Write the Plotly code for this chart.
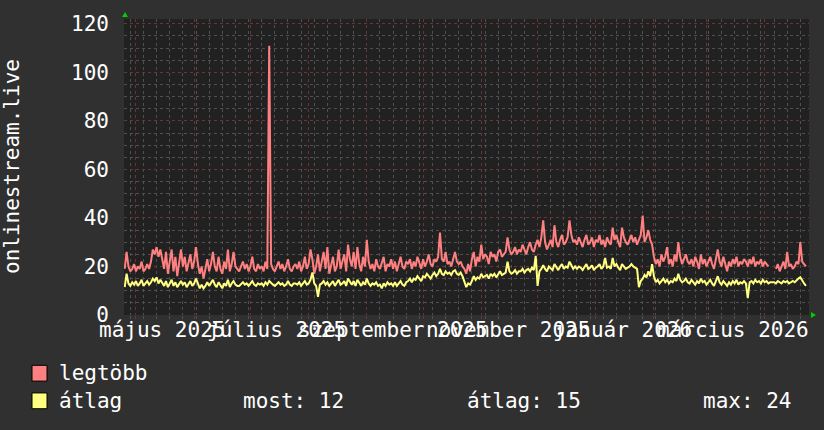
import pandas as pd
import plotly.graph_objects as go

nan = float("nan")

# ---------------- data (daily values) ----------------
dates = pd.date_range("2025-04-25", periods=364, freq="D")

legtobb = (
    [19, 26, 20, 18, 19, 21, 18, 20, 19, 22, 18, 19, 21, 19, 22, 27, 25, 28, 24, 27, 23, 19, 26, 17, 22, 27, 18, 24, 16, 22, 27]
    + [20, 24, 18, 21, 25, 19, 22, 28, 21, 17, 20, 15, 19, 23, 18, 21, 26, 20, 18, 24, 19, 17, 22, 19, 27, 18, 21, 26, 20, 19]
    + [18, 20, 22, 19, 21, 18, 20, 24, 19, 18, 21, 19, 20, 18, 22, 19, 111, 21, 19, 18, 20, 22, 19, 21, 18, 20, 23, 19, 18, 20]
    + [21, 19, 22, 18, 20, 24, 19, 21, 27, 23, 17, 20, 25, 18, 22, 26, 19, 28, 17, 21, 24, 18, 20, 27, 19, 22, 25, 18, 29, 23]
    + [20, 26, 19, 28, 21, 18, 24, 20, 31, 22, 19, 21, 18, 23, 20, 19, 22, 24, 18, 21, 20, 23, 19, 22, 18, 21, 24, 20, 19, 22]
    + [21, 23, 19, 22, 20, 24, 21, 19, 23, 20, 22, 25, 21, 20, 23, 22, 24, 34, 23, 22, 26, 21, 22, 20, 23, 26, 22, 21, 22, 20]
    + [19, 17, 21, 18, 23, 26, 20, 24, 22, 29, 23, 25, 24, 21, 26, 24, 25, 22, 26, 27, 24, 25, 26, 32, 27, 25, 26, 28, 25, 27]
    + [26, 29, 27, 25, 28, 30, 27, 26, 29, 31, 28, 32, 39, 30, 27, 29, 31, 28, 37, 30, 28, 31, 33, 29, 30, 32, 39, 33, 30, 31]
    + [29, 32, 30, 28, 31, 33, 29, 30, 32, 28, 31, 30, 33, 29, 31, 28, 32, 30, 29, 36, 31, 33, 30, 28, 36, 32, 30, 29, 31, 33]
    + [30, 32, 29, 31, 33, 41, 30, 32, 35, 31, 29, 24, 21, 23, 20, 25, 22, 24, 28, 21, 23, 20, 25, 22, 30, 24, 21, 23, 25, 22]
    + [21, 23, 20, 24, 22, 19, 25, 21, 23, 20, 22, 24, 21, 19, 23, 27, 22, 20, 24, 21, 18, 22, 20, 23, 21, 24, 20, 22, 21, 23]
    + [22, 20, 23, 21, 24, 20, 22, 21, 23, 20, 22, 21, 20, nan, nan, nan, 19, 21, 18, 20, 22, 19, 26, 20, 21, 19, 20, 22, 21, 30, 22, 21, 20]
)

atlag = (
    [11.5, 17, 13, 12, 13.5, 12.5, 14, 12, 13, 14.5, 12, 13, 14, 12.5, 13.5, 15, 14, 15.5, 13, 14.5, 13, 12, 14, 11.5, 13, 14.5, 12, 13.5, 11.5, 13, 14]
    + [12.5, 13.5, 11.5, 13, 14, 12, 13, 15, 12.5, 11, 12.5, 11, 12, 13.5, 12, 13, 14.5, 12.5, 11.5, 13.5, 12, 11, 13, 12, 14.5, 11.5, 13, 14, 12.5, 12]
    + [12, 13, 13.5, 12.5, 13, 12, 13, 14, 12.5, 12, 13, 12.5, 13, 12, 13.5, 12.5, 14, 13, 12.5, 12, 13, 13.5, 12.5, 13, 12, 12.5, 14, 12.5, 12, 13]
    + [13, 12.5, 13.5, 12, 13, 14, 12.5, 13, 14.5, 17.5, 13, 12, 7.5, 12.5, 13, 14, 12.5, 13.5, 12, 13, 14, 12, 13, 14.5, 12.5, 13, 14, 12, 15, 13.5]
    + [12.5, 14, 12, 14.5, 13, 12, 13.5, 12.5, 15, 13, 12, 13, 12.5, 13.5, 12, 12.5, 11, 13, 12, 13.5, 12.5, 13, 12, 13.5, 12, 13, 14, 12.5, 12, 13.5]
    + [14, 15, 13.5, 15, 14.5, 16, 15, 14, 16, 15.5, 17, 16, 15, 16.5, 17.5, 16, 17, 19, 17, 16.5, 18, 17, 17.5, 16.5, 18, 18.5, 17, 16.5, 17.5, 16]
    + [14, 11.5, 13, 12.5, 14, 16, 14.5, 15.5, 15, 17, 15.5, 16, 16.5, 15, 17, 16, 17, 15.5, 17, 18, 16.5, 17, 17.5, 22, 18, 17, 17.5, 18.5, 17, 18]
    + [18, 19, 17.5, 18.5, 19, 18, 19.5, 18.5, 24.4, 12, 18, 19, 20.5, 19, 18, 20, 19, 18.5, 21, 19.5, 18.5, 20, 21, 19, 20, 19.5, 22, 20.5, 19, 20]
    + [19, 20, 19.5, 18.5, 20, 21, 19, 19.5, 20.5, 18.5, 19.5, 20, 21, 19, 20, 23.5, 19.5, 20, 19, 23.5, 20, 21, 19.5, 18.5, 21, 20, 19, 19.5, 20, 21]
    + [20, 19.5, 19, 11.5, 14, 15, 16.5, 15.5, 18, 16, 21, 16, 13.5, 14.5, 13, 14, 15, 13.5, 14.5, 13, 14, 13.5, 15, 14, 17, 14.5, 13.5, 14, 15, 13.5]
    + [13, 14.5, 13.5, 12.5, 14, 13, 15, 13.5, 14, 12.5, 13.5, 14.5, 13, 12, 14, 16, 13.5, 12.5, 14, 13, 12, 13.5, 12.5, 14, 13, 14.5, 12.5, 13.5, 13, 14]
    + [13, 7, 13.5, 14, 13, 14.5, 13.5, 14, 13, 14.5, 13.5, 14, 13, 13.5, 13.5, 13.5, 13, 14, 13.5, 13, 14, 13.5, 14, 13, 13.5, 14, 13.5, 14.5, 15, 15.6, 14, 13, 12]
)

series_names = ["legtöbb", "átlag"]
series_colors = ["#ff8080", "#ffff80"]

x_range = ["2025-04-24 15:00", "2026-04-24 15:00"]
month_starts = pd.date_range("2025-05-01", "2026-04-01", freq="MS")
label_dates = ["2025-05-15", "2025-07-15", "2025-09-15", "2025-11-15", "2026-01-15", "2026-03-15"]
label_text = ["május 2025", "július 2025", "szeptember 2025", "november 2025", "január 2026", "március 2026"]
y_ticks = [0, 20, 40, 60, 80, 100, 120]
y_title = "onlinestream.live"
stats_text = ["most: 12", "átlag: 15", "max: 24"]

# ---------------- layout constants (pixels) ----------------
W, H = 824, 430
L, R, T, B = 124, 809, 15, 315
FONT = "DejaVu Sans Mono"
BG = "#303030"
CANVAS = "#212121"
MINOR = "#505050"
MAJOR = "#6e3434"


def px_x(p):
    return (p - L) / (R - L)


def px_y(p):
    return (B - p) / (B - T)


fig = go.Figure()
for vals, name, col in zip([legtobb, atlag], series_names, series_colors):
    fig.add_trace(go.Scatter(x=dates, y=vals, mode="lines", name=name,
                             line=dict(color=col, width=2), connectgaps=False,
                             showlegend=False, hoverinfo="skip"))

annotations = []
for d, t in zip(label_dates, label_text):
    annotations.append(dict(x=d, xref="x", y=px_y(330), yref="paper", text=t,
                            showarrow=False, xanchor="center", yanchor="middle",
                            font=dict(family=FONT, size=21, color="#ffffff")))

annotations.append(dict(x=px_x(12), xref="paper", y=0.5, yref="paper", text=y_title,
                        textangle=-90, showarrow=False, xanchor="center", yanchor="middle",
                        font=dict(family=FONT, size=21, color="#ffffff")))

shapes = []
legend_rows = [374, 402]
for row_y, name, col in zip(legend_rows, series_names, series_colors):
    shapes.append(dict(type="rect", xref="paper", yref="paper",
                       x0=px_x(32), x1=px_x(47), y0=px_y(row_y + 8), y1=px_y(row_y - 8),
                       fillcolor=col, line=dict(color="#000000", width=1)))
    annotations.append(dict(x=px_x(57), xref="paper", y=px_y(row_y), yref="paper", text=name,
                            showarrow=False, xanchor="left", yanchor="middle",
                            font=dict(family=FONT, size=21, color="#ffffff")))

for xp, t in zip([241, 465, 701], stats_text):
    annotations.append(dict(x=px_x(xp), xref="paper", y=px_y(legend_rows[1]), yref="paper", text=t,
                            showarrow=False, xanchor="left", yanchor="middle",
                            font=dict(family=FONT, size=21, color="#ffffff")))

# green axis arrows
shapes.append(dict(type="path", xref="paper", yref="paper",
                   path=f"M {px_x(122)},{px_y(13)} L {px_x(128)},{px_y(13)} L {px_x(125)},{px_y(8)} Z",
                   fillcolor="#00cc00", line=dict(color="#00cc00", width=0)))
shapes.append(dict(type="path", xref="paper", yref="paper",
                   path=f"M {px_x(811)},{px_y(312)} L {px_x(811)},{px_y(318)} L {px_x(816)},{px_y(315)} Z",
                   fillcolor="#00cc00", line=dict(color="#00cc00", width=0)))

fig.update_layout(
    width=W, height=H, autosize=False,
    margin=dict(l=L, r=W - R, t=T, b=H - B, pad=0),
    paper_bgcolor=BG, plot_bgcolor=CANVAS,
    font=dict(family=FONT, size=21, color="#ffffff"),
    showlegend=False,
    hovermode=False,
    annotations=annotations,
    shapes=shapes,
    xaxis=dict(type="date", range=x_range, tickmode="array", tickvals=list(month_starts),
               ticktext=[""] * len(month_starts), showgrid=True, gridcolor=MAJOR,
               griddash="dot", gridwidth=1, ticks="outside", ticklen=3, tickcolor=MAJOR,
               zeroline=False, showline=False,
               minor=dict(dtick=7 * 86400000, tick0="2025-04-28", showgrid=True,
                          gridcolor=MINOR, griddash="dot", gridwidth=1,
                          ticks="outside", ticklen=3, tickcolor=MINOR)),
    yaxis=dict(range=[0, 122], tickmode="array", tickvals=y_ticks,
               ticktext=[str(v) for v in y_ticks], showgrid=True, gridcolor=MAJOR,
               griddash="dot", gridwidth=1, ticks="", zeroline=False, showline=False,
               ticklabelstandoff=14,
               tickfont=dict(family=FONT, size=21, color="#ffffff"),
               minor=dict(dtick=5, tick0=0, showgrid=True, gridcolor=MINOR,
                          griddash="dot", gridwidth=1)),
)

fig.write_html("out.html", config={"displayModeBar": False, "staticPlot": True},
               post_script="document.body.style.margin='0px';document.body.style.background='#303030';")
